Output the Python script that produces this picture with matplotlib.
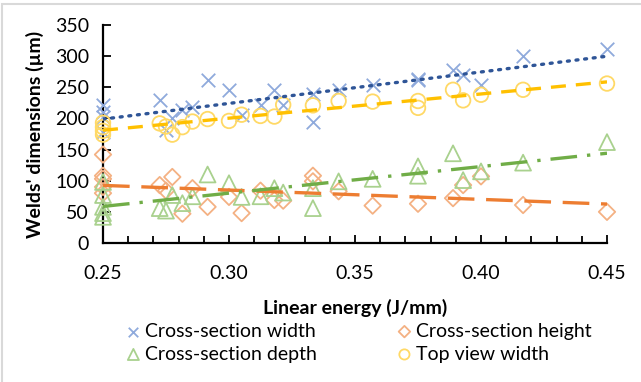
import matplotlib
matplotlib.use('Agg')
import matplotlib.pyplot as plt
import numpy as np
from matplotlib.ticker import MultipleLocator, FormatStrFormatter
from matplotlib.patches import Rectangle

plt.rcParams['font.family'] = ['Lato', 'DejaVu Sans']

# linear energy (J/mm) and measured dimensions (um)
width_x = [0.25, 0.25, 0.25, 0.25, 0.2725, 0.275, 0.2775, 0.2815, 0.2855, 0.2915, 0.300,
           0.305, 0.3125, 0.318, 0.3215, 0.3333, 0.3333, 0.3435, 0.357, 0.375, 0.375,
           0.3889, 0.3929, 0.400, 0.4167, 0.450]
width_y = [222, 211, 203, 178, 229, 182, 201, 213, 219, 261, 246,
           205, 221, 246, 222, 240, 195, 246, 253, 264, 262,
           278, 269, 254, 301, 312]

height_x = [0.25, 0.25, 0.25, 0.25, 0.25, 0.2725, 0.275, 0.2775, 0.2815, 0.2855, 0.2915,
            0.300, 0.305, 0.3125, 0.318, 0.3215, 0.3333, 0.3333, 0.3435, 0.357, 0.375,
            0.3889, 0.3929, 0.400, 0.4167, 0.450]
height_y = [142, 108, 103, 90, 80, 93, 84, 106, 47, 88, 58,
            74, 48, 84, 69, 68, 108, 99, 83, 60, 63,
            72, 93, 107, 61, 50]

depth_x = [0.25, 0.25, 0.25, 0.25, 0.25, 0.2725, 0.275, 0.2775, 0.2815, 0.2855, 0.2915,
           0.300, 0.305, 0.3125, 0.318, 0.3215, 0.3333, 0.3333, 0.3435, 0.357, 0.375,
           0.375, 0.3889, 0.3929, 0.400, 0.4167, 0.450]
depth_y = [98, 77, 58, 48, 42, 56, 52, 77, 64, 75, 110,
           96, 74, 75, 88, 81, 88, 56, 99, 103, 123,
           108, 144, 101, 115, 129, 162]

top_x = [0.25, 0.25, 0.25, 0.25, 0.2725, 0.275, 0.2775, 0.2815, 0.2855, 0.2915, 0.300,
         0.305, 0.3125, 0.318, 0.3215, 0.3333, 0.3435, 0.357, 0.375, 0.375, 0.3889,
         0.3929, 0.400, 0.4167, 0.450]
top_y = [193, 186, 180, 174, 192, 187, 174, 186, 195, 199, 196,
         206, 204, 203, 222, 221, 228, 227, 228, 217, 246,
         229, 238, 246, 256]

series = [
    ('Cross-section width', width_x, width_y, 'x', '#8FAADC', '#2F5597', (0, (0.6, 2.0)), 'round'),
    ('Cross-section height', height_x, height_y, 'D', '#F4B183', '#ED7D31', (0, (8, 3.5)), 'butt'),
    ('Cross-section depth', depth_x, depth_y, '^', '#A9D18E', '#70AD47', (0, (8, 3, 1, 3)), 'butt'),
    ('Top view width', top_x, top_y, 'o', '#FFD966', '#FFC000', (0, (4.5, 3)), 'butt'),
]
msize = {'x': 95, 'D': 70, '^': 130, 'o': 110}

fig = plt.figure(figsize=(6.41, 3.82), dpi=100)
ax = fig.add_axes([103 / 641, 1 - 243 / 382, (607 - 103) / 641, (243 - 25) / 382])

handles = {}
for name, xs, ys, mk, mcol, lcol, ls, cap in series:
    xs = np.array(xs)
    ys = np.array(ys)
    if mk == 'x':
        h = ax.scatter(xs, ys, marker='x', s=msize[mk], color=mcol, linewidths=1.3,
                       label=name, zorder=3, clip_on=False)
    else:
        h = ax.scatter(xs, ys, marker=mk, s=msize[mk], facecolors='none', edgecolors=mcol,
                       linewidths=1.3, label=name, zorder=3, clip_on=False)
    handles[name] = h
    k, b = np.polyfit(xs, ys, 1)
    lx = np.array([0.25, 0.45])
    ax.plot(lx, k * lx + b, color=lcol, lw=2.4, linestyle=ls, dash_capstyle=cap,
            solid_capstyle=cap, zorder=4)

ax.set_xlim(0.25, 0.45)
ax.set_ylim(0, 350)
ax.xaxis.set_major_locator(MultipleLocator(0.05))
ax.xaxis.set_minor_locator(MultipleLocator(0.01))
ax.yaxis.set_major_locator(MultipleLocator(50))
ax.xaxis.set_major_formatter(FormatStrFormatter('%.2f'))
ax.tick_params(axis='both', which='both', direction='in', labelsize=14, color='black',
               width=1.3)
ax.tick_params(axis='both', which='major', length=6)
ax.tick_params(axis='x', which='minor', length=5)
ax.tick_params(axis='x', pad=16)
ax.tick_params(axis='y', pad=10)
for s in ['top', 'right']:
    ax.spines[s].set_visible(False)
for s in ['left', 'bottom']:
    ax.spines[s].set_linewidth(1.6)

ax.set_xlabel('Linear energy (J/mm)', fontsize=14, fontweight='bold', labelpad=12)
ax.set_ylabel("Welds' dimensions (µm)", fontsize=14, fontweight='bold', labelpad=8)

order = ['Cross-section width', 'Cross-section depth', 'Cross-section height', 'Top view width']
fig.legend(handles=[handles[n] for n in order], loc='upper left',
           bbox_to_anchor=(112 / 641, 1 - 313 / 382),
           ncol=2, frameon=False, fontsize=14, handletextpad=0.0, columnspacing=3.9,
           labelspacing=0.3, markerscale=0.7, handlelength=1.2, borderpad=0)

fig.patches.append(Rectangle((0.003, -0.01), 1.1, 1.0, transform=fig.transFigure,
                             fill=False, edgecolor='#D9D9D9', lw=1.5))

fig.savefig('out.png', dpi=100)
